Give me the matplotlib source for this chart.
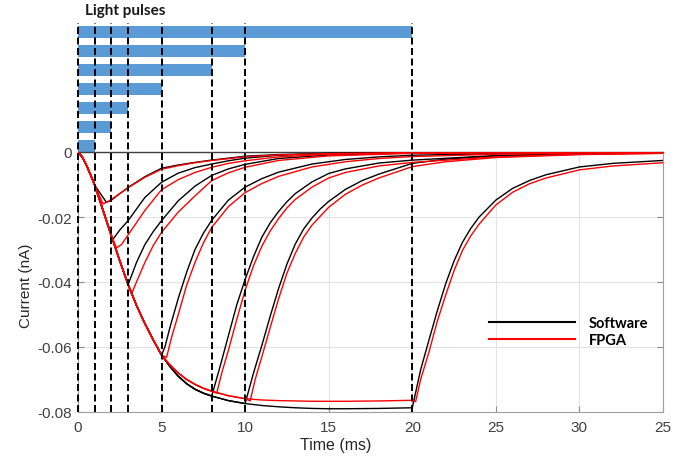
import matplotlib
matplotlib.use("Agg")
import matplotlib.pyplot as plt
import numpy as np

# ---------------- data ----------------
pulse_durations = [20, 10, 8, 5, 3, 2, 1]          # bars, top to bottom
pulse_ends = [0, 1, 2, 3, 5, 8, 10, 20]            # dashed markers

# rising (light on) envelope
env_t = [0, 0.25, 0.5, 0.75, 1, 1.5, 2, 2.5, 3, 3.5, 4, 4.5, 5, 5.5, 6, 6.5, 7, 7.5, 8,
         9, 10, 11, 12, 13, 14, 15, 16, 18, 20]
env_sw = [0, -0.0015, -0.0040, -0.0070, -0.0102, -0.0180, -0.0258, -0.0335, -0.0408,
          -0.0472, -0.0528, -0.0578, -0.0625, -0.0660, -0.0690, -0.0713, -0.0730,
          -0.0742, -0.0751, -0.0765, -0.0774, -0.0780, -0.0784, -0.0787, -0.0789,
          -0.0790, -0.0790, -0.0789, -0.0787]
env_fpga = [0, -0.0015, -0.0040, -0.0070, -0.0102, -0.0180, -0.0258, -0.0335, -0.0408,
            -0.0472, -0.0528, -0.0578, -0.0625, -0.0655, -0.0680, -0.0700, -0.0715,
            -0.0727, -0.0736, -0.0750, -0.0759, -0.0763, -0.0765, -0.0766, -0.0767,
            -0.0767, -0.0767, -0.0766, -0.0764]

# decay (light off) parts: software
sw_t_1 = [1, 1.7, 2, 2.5, 3, 4, 5, 6, 7, 8, 10, 12, 15, 20, 35]
sw_i_1 = [-0.0102, -0.0155, -0.0148, -0.0128, -0.0109, -0.0076, -0.0050, -0.0040,
          -0.0032, -0.0025, -0.0013, -0.0008, -0.0004, -0.0002, 0.0]
sw_t_2 = [2, 2.1, 2.5, 3, 4, 5, 6, 7, 8, 9, 10, 12, 15, 20, 35]
sw_i_2 = [-0.0258, -0.0268, -0.0240, -0.0211, -0.0140, -0.0093, -0.0065, -0.0048,
          -0.0037, -0.0027, -0.0019, -0.0010, -0.0005, -0.0002, 0.0]
sw_t_3 = [3, 3.5, 4, 4.5, 5, 6, 7, 8, 9, 10, 12, 15, 20, 25, 35]
sw_i_3 = [-0.0408, -0.0340, -0.0285, -0.0245, -0.0211, -0.0150, -0.0105, -0.0072,
          -0.0052, -0.0038, -0.0020, -0.0009, -0.0003, -0.0001, 0.0]
sw_t_5 = [5, 5.2, 5.5, 6, 6.5, 7, 7.5, 8, 9, 10, 11, 12, 14, 16, 18, 20, 25, 30, 35]
sw_i_5 = [-0.0625, -0.0600, -0.0540, -0.0450, -0.0370, -0.0300, -0.0250, -0.0210,
          -0.0148, -0.0108, -0.0082, -0.0062, -0.0037, -0.0023, -0.0015, -0.0010,
          -0.0005, -0.0002, -0.0001]
sw_t_8 = [8, 8.5, 9, 9.5, 10, 10.5, 11, 11.5, 12, 12.5, 13, 14, 15, 16, 18, 20, 25, 30, 35]
sw_i_8 = [-0.0751, -0.0660, -0.0565, -0.0470, -0.0392, -0.0322, -0.0262, -0.0218,
          -0.0183, -0.0153, -0.0128, -0.0092, -0.0066, -0.0052, -0.0034, -0.0025,
          -0.0011, -0.0005, -0.0003]
sw_t_10 = [10, 10.5, 11, 11.5, 12, 12.5, 13, 13.5, 14, 14.5, 15, 16, 17, 18, 20, 22, 25, 30, 35]
sw_i_10 = [-0.0774, -0.0680, -0.0595, -0.0505, -0.0420, -0.0345, -0.0283, -0.0237,
           -0.0203, -0.0175, -0.0152, -0.0115, -0.0088, -0.0068, -0.0035, -0.0022,
           -0.0012, -0.0006, -0.0003]
sw_t_20 = [20, 20.5, 21, 21.5, 22, 22.5, 23, 23.5, 24, 25, 26, 27, 28, 30, 32, 35]
sw_i_20 = [-0.0787, -0.0670, -0.0578, -0.0488, -0.0405, -0.0335, -0.0278, -0.0235,
           -0.0200, -0.0148, -0.0112, -0.0088, -0.0070, -0.0046, -0.0035, -0.0026]

# decay parts: FPGA
fp_t_1 = [1, 1.5, 1.8, 2, 2.5, 3, 4, 5, 6, 7, 8, 10, 12, 15, 20, 35]
fp_i_1 = [-0.0102, -0.0160, -0.0152, -0.0146, -0.0128, -0.0110, -0.0078, -0.0053,
          -0.0042, -0.0033, -0.0026, -0.0015, -0.0009, -0.0005, -0.0002, 0.0]
fp_t_2 = [2, 2.3, 2.6, 3, 4, 5, 6, 7, 8, 9, 10, 12, 15, 20, 35]
fp_i_2 = [-0.0258, -0.0295, -0.0285, -0.0255, -0.0180, -0.0116, -0.0085, -0.0063,
          -0.0047, -0.0035, -0.0027, -0.0015, -0.0007, -0.0003, 0.0]
fp_t_3 = [3, 3.2, 3.5, 4, 4.5, 5, 6, 7, 8, 9, 10, 12, 15, 20, 25, 35]
fp_i_3 = [-0.0408, -0.0437, -0.0400, -0.0340, -0.0288, -0.0247, -0.0185, -0.0135,
          -0.0088, -0.0064, -0.0047, -0.0026, -0.0012, -0.0004, -0.0002, 0.0]
fp_t_5 = [5, 5.3, 5.6, 6, 6.5, 7, 7.5, 8, 9, 10, 11, 12, 14, 16, 18, 20, 25, 30, 35]
fp_i_5 = [-0.0625, -0.0632, -0.0570, -0.0500, -0.0410, -0.0340, -0.0280, -0.0232,
          -0.0168, -0.0125, -0.0097, -0.0075, -0.0046, -0.0030, -0.0020, -0.0014,
          -0.0007, -0.0003, -0.0002]
fp_t_8 = [8, 8.3, 8.6, 9, 9.5, 10, 10.5, 11, 11.5, 12, 12.5, 13, 14, 15, 16, 18, 20, 25, 30, 35]
fp_i_8 = [-0.0736, -0.0742, -0.0680, -0.0610, -0.0515, -0.0425, -0.0350, -0.0290,
          -0.0243, -0.0205, -0.0172, -0.0146, -0.0108, -0.0080, -0.0063, -0.0043,
          -0.0032, -0.0015, -0.0007, -0.0004]
fp_t_10 = [10, 10.3, 10.6, 11, 11.5, 12, 12.5, 13, 13.5, 14, 15, 16, 17, 18, 20, 22, 25, 30, 35]
fp_i_10 = [-0.0759, -0.0766, -0.0700, -0.0630, -0.0540, -0.0452, -0.0373, -0.0312,
           -0.0262, -0.0225, -0.0170, -0.0130, -0.0102, -0.0080, -0.0045, -0.0030,
           -0.0017, -0.0008, -0.0004]
fp_t_20 = [20, 20.2, 20.5, 21, 21.5, 22, 22.5, 23, 23.5, 24, 25, 26, 27, 28, 30, 32, 35]
fp_i_20 = [-0.0764, -0.0768, -0.0700, -0.0615, -0.0520, -0.0440, -0.0365, -0.0303,
           -0.0258, -0.0222, -0.0163, -0.0124, -0.0098, -0.0080, -0.0055, -0.0043,
           -0.0033]

xtick_vals = [0, 5, 10, 15, 20, 25, 30, 35]
xtick_labels = ['0', '5', '10', '15', '20', '25', '30', '25']
ytick_vals = [0, -0.02, -0.04, -0.06, -0.08]
ytick_labels = ['0', '-0.02', '-0.04', '-0.06', '-0.08']

sw_decays = {1: (sw_t_1, sw_i_1), 2: (sw_t_2, sw_i_2), 3: (sw_t_3, sw_i_3),
             5: (sw_t_5, sw_i_5), 8: (sw_t_8, sw_i_8), 10: (sw_t_10, sw_i_10),
             20: (sw_t_20, sw_i_20)}
fp_decays = {1: (fp_t_1, fp_i_1), 2: (fp_t_2, fp_i_2), 3: (fp_t_3, fp_i_3),
             5: (fp_t_5, fp_i_5), 8: (fp_t_8, fp_i_8), 10: (fp_t_10, fp_i_10),
             20: (fp_t_20, fp_i_20)}

# ---------------- figure ----------------
plt.rcParams['font.family'] = ['Liberation Sans', 'DejaVu Sans']
fig = plt.figure(figsize=(7.0, 4.6), dpi=100)
ax = fig.add_axes([78/700, 1-413/460, 585/700, 260/460])

ax.set_xlim(0, 35)
ax.set_ylim(-0.08, 0)

def full_curve(env_i, decay, D):
    t = [tt for tt in env_t if tt < D]
    i = [ii for tt, ii in zip(env_t, env_i) if tt < D]
    return t + list(decay[0]), i + list(decay[1])

for D in sorted(sw_decays):
    t, i = full_curve(env_sw, sw_decays[D], D)
    ax.plot(t, i, color='black', lw=1.0, zorder=3)
for D in sorted(fp_decays):
    t, i = full_curve(env_fpga, fp_decays[D], D)
    ax.plot(t, i, color='#ff0000', lw=1.0, zorder=4)

# legend
h1, = ax.plot([], [], color='black', lw=1.5, label='Software')
h2, = ax.plot([], [], color='#ff0000', lw=1.5, label='FPGA')
leg = ax.legend(handles=[h1, h2], loc='upper left', bbox_to_anchor=(0.703, 0.368),
                frameon=False, handlelength=5.9, handletextpad=0.95, labelspacing=0.2,
                borderpad=0, borderaxespad=0,
                prop={'family': ['Lato', 'DejaVu Sans'], 'weight': 'bold', 'size': 10.5})

# light pulse bars (above the axes)
bar_h = 0.0037
bar_base = 0.00178
bar_step = 0.00585
n = len(pulse_durations)
for k, d in enumerate(pulse_durations):
    yc = bar_base + (n - 1 - k) * bar_step
    b = ax.barh(yc, d, height=bar_h, left=0, color='#5b9bd5', clip_on=False, zorder=2)
    for r in b:
        r.set_clip_on(False)

# dashed markers
for t0 in pulse_ends:
    ax.plot([t0, t0], [-0.08, 0.0397], color='black', lw=1.4, ls=(0, (3.6, 1.8)),
            clip_on=False, zorder=5)

# axes styling
ax.set_xticks(xtick_vals)
ax.set_xticklabels(xtick_labels)
ax.set_yticks(ytick_vals)
ax.set_yticklabels(ytick_labels)
ax.tick_params(direction='in', length=4, width=0.8, colors='#8c8c8c',
               labelcolor='#404040', labelsize=11, right=True, top=False)
ax.tick_params(axis='y', pad=4.5)
ax.tick_params(axis='x', pad=6)
ax.grid(True, color='#e3e3e3', lw=0.8, zorder=0)
ax.set_axisbelow(True)
for s in ['left', 'bottom', 'right']:
    ax.spines[s].set_color('#a0a0a0')
ax.spines['top'].set_color('#404040')
ax.spines['top'].set_linewidth(1.0)

ax.set_xlabel('Time (ms)', fontsize=11.5, color='#262626')
ax.xaxis.set_label_coords((336-78)/585, -0.098)
ax.set_ylabel('Current (nA)', fontsize=11, color='#262626')
ax.yaxis.set_label_coords((33-78)/585, 0.49)

fig.text(125.5/700, 1-10.5/460, 'Light pulses', ha='center', va='center',
         family=['Lato', 'DejaVu Sans'], weight='bold', fontsize=11, color='#1a1a1a')

fig.savefig('out.png', dpi=100)
